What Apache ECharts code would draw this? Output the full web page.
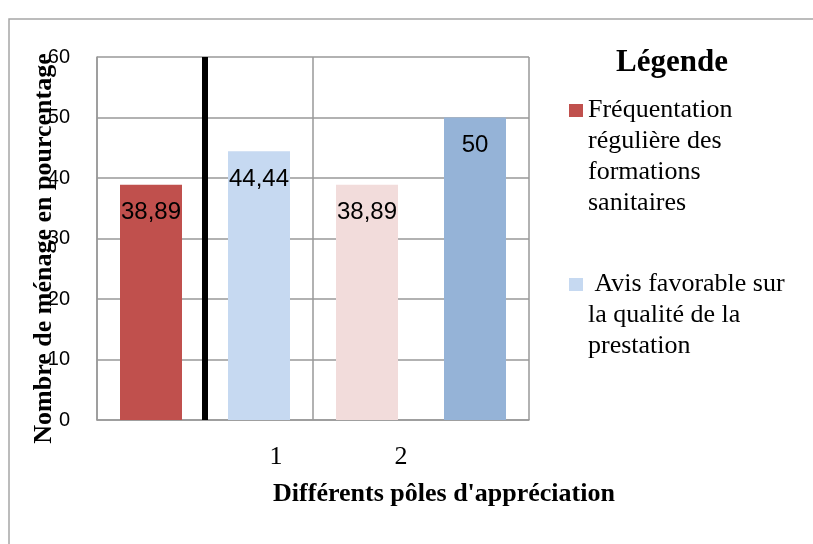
<!DOCTYPE html>
<html>
<head>
<meta charset="utf-8">
<script src="https://cdn.jsdelivr.net/npm/echarts@6/dist/echarts.min.js"></script>
<style>html,body{margin:0;padding:0;background:#fff;}#c{width:813px;height:544px;}</style>
</head>
<body>
<div id="c"></div>
<script>
// ---- data ----
const categories = ['Fréquentation (1)', 'Avis favorable (1)', 'Fréquentation (2)', 'Avis favorable (2)'];
const frequentation = [38.89, null, 38.89, null];
const avisFavorable = [null, 44.44, null, 50];
const yTicks = [0, 10, 20, 30, 40, 50, 60];
const groupLabels = ['1', '2'];
const separator = [[1, 0], [1, 60]];
const seriesNames = ['Fréquentation\nrégulière des\nformations\nsanitaires', ' Avis favorable sur\nla qualité de la\nprestation'];

// ---- styles ----
const barColors = ['#C0504D', '#C6D9F1', '#F2DCDB', '#95B3D7'];
const serif = '"Liberation Serif", "Times New Roman", serif';
const sans = '"Liberation Sans", Arial, sans-serif';
const gridColor = '#999999';

const chart = echarts.init(document.getElementById('c'), null, {renderer: 'canvas'});
const fmt = p => String(p.value).replace('.', ',');
const barLabel = {show: true, position: 'insideTop', distance: 16, color: '#000', fontFamily: sans, fontSize: 24, formatter: fmt};
const withColors = arr => arr.map((v, i) => v == null ? null : {value: v, itemStyle: {color: barColors[i]}});
// put the legend icon beside the first line of a multi-line name
const firstLineLegend = name => '\n'.repeat(name.split('\n').length - 1) + name;
const legendText = {fontFamily: serif, fontSize: 26, lineHeight: 31, color: '#000'};

chart.setOption({
  animation: false,
  backgroundColor: '#fff',
  grid: {left: 97, top: 57, width: 432, height: 363, containLabel: false},
  xAxis: [{
    type: 'category', data: categories,
    axisLine: {show: true, lineStyle: {color: gridColor, width: 1.5}},
    axisTick: {show: false}, axisLabel: {show: false},
    splitLine: {show: true, lineStyle: {color: gridColor, width: 1.5}}
  }, {
    type: 'value', min: 0, max: 4, show: false
  }],
  yAxis: {
    type: 'value', min: yTicks[0], max: yTicks[yTicks.length - 1], interval: yTicks[1] - yTicks[0],
    name: 'Nombre de ménage en pourcentage', nameLocation: 'middle', nameRotate: 90, nameGap: 40,
    nameMoveOverlap: false,
    nameTextStyle: {fontFamily: serif, fontWeight: 'bold', fontSize: 26, color: '#000', padding: [0, 20, 0, 0]},
    axisLine: {show: true, lineStyle: {color: gridColor, width: 1.5}},
    axisTick: {show: false},
    axisLabel: {margin: 27, color: '#000', fontFamily: sans, fontSize: 20},
    splitLine: {show: true, lineStyle: {color: gridColor, width: 1.5}}
  },
  legend: [{
    data: [seriesNames[0]], orient: 'vertical', left: 569, top: 2, padding: 0,
    icon: 'rect', itemWidth: 14, itemHeight: 13, formatter: firstLineLegend, textStyle: legendText
  }, {
    data: [seriesNames[1]], orient: 'vertical', left: 569, top: 207, padding: 0,
    icon: 'rect', itemWidth: 14, itemHeight: 13, formatter: firstLineLegend, textStyle: legendText
  }],
  series: [{
    name: seriesNames[0], type: 'bar', data: withColors(frequentation), barWidth: 62, barGap: '-100%',
    itemStyle: {color: barColors[0]}, label: barLabel
  }, {
    name: seriesNames[1], type: 'bar', data: withColors(avisFavorable), barWidth: 62, barGap: '-100%',
    itemStyle: {color: barColors[1]}, label: barLabel
  }, {
    name: 'séparateur', type: 'line', xAxisIndex: 1, data: separator, symbol: 'none',
    lineStyle: {color: '#000', width: 6}, z: 5, silent: true
  }],
  graphic: [
    {type: 'rect', shape: {x: 9, y: 19, width: 840, height: 560}, style: {fill: 'none', stroke: '#a6a6a6', lineWidth: 1.5}, z: -1},
    {type: 'text', x: 672, y: 63, style: {text: 'Légende', font: 'bold 31px ' + serif, fill: '#000', textAlign: 'center', textVerticalAlign: 'middle'}},
    {type: 'text', x: 444, y: 494, style: {text: "Différents pôles d'appréciation", font: 'bold 26px ' + serif, fill: '#000', textAlign: 'center', textVerticalAlign: 'middle'}},
    {type: 'text', x: 276, y: 444, style: {text: groupLabels[0], font: '26px ' + serif, fill: '#000', textAlign: 'center', textVerticalAlign: 'top'}},
    {type: 'text', x: 401, y: 444, style: {text: groupLabels[1], font: '26px ' + serif, fill: '#000', textAlign: 'center', textVerticalAlign: 'top'}},
    {type: 'rect', shape: {x: 250, y: 464, width: 180, height: 14}, style: {fill: '#fff'}, z: 10}
  ]
});
</script>
</body>
</html>
